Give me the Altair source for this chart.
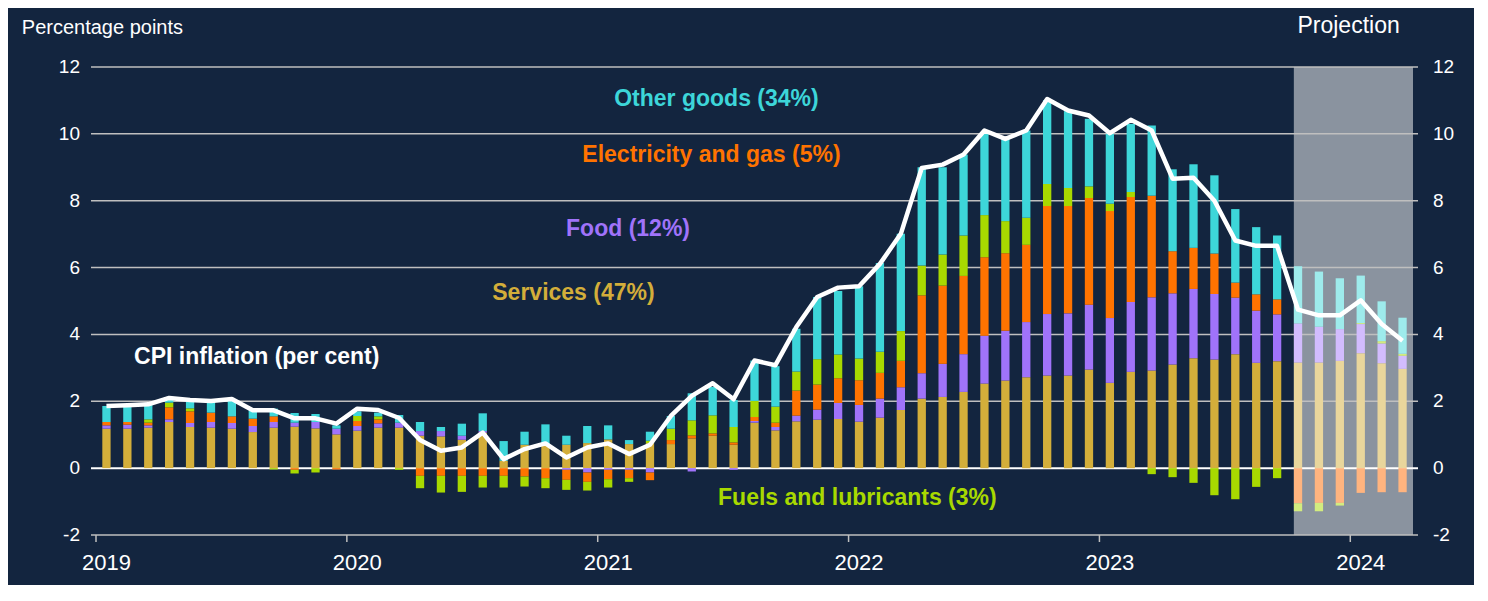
import altair as alt
import pandas as pd

# ---- data (percentage-point contributions, Jan 2019 .. Mar 2024) ----
years = ["2019", "2020", "2021", "2022", "2023", "2024"]
y_ticks = [-2, 0, 2, 4, 6, 8, 10, 12]
names = ["Services", "Food", "Electricity and gas", "Fuels and lubricants", "Other goods"]
first_projection_month = 57  # Oct 2023

services = [1.18, 1.18, 1.21, 1.38, 1.23, 1.21, 1.18, 1.08, 1.21, 1.24, 1.19, 1.01,
            1.12, 1.21, 1.21, 0.97, 0.95, 0.85, 1.06, 0.22, 0.70, 0.67, 0.70, 0.75,
            0.86, 0.72, 0.75, 0.72, 0.89, 0.97, 0.70, 1.36, 1.13, 1.40, 1.45, 1.47,
            1.39, 1.51, 1.74, 2.08, 2.13, 2.28, 2.53, 2.62, 2.72, 2.77, 2.77, 2.95,
            2.55, 2.88, 2.92, 3.10, 3.29, 3.25, 3.41, 3.15, 3.20, 3.16, 3.16, 3.21,
            3.44, 3.14, 2.97]
food = [0.10, 0.12, 0.07, 0.08, 0.12, 0.17, 0.17, 0.18, 0.17, 0.12, 0.19, 0.17,
        0.14, 0.13, 0.15, 0.14, 0.16, 0.12, 0.05, 0.0, 0.0, 0.0, -0.05, -0.13,
        -0.05, -0.05, -0.13, 0.0, -0.10, 0.0, -0.05, 0.05, 0.10, 0.17, 0.30, 0.48,
        0.50, 0.57, 0.68, 0.76, 0.99, 1.13, 1.43, 1.49, 1.65, 1.84, 1.86, 1.94,
        1.94, 2.09, 2.19, 2.13, 2.07, 1.96, 1.69, 1.56, 1.40, 1.17, 1.07, 0.95,
        0.87, 0.59, 0.39]
electricity = [0.10, 0.08, 0.08, 0.36, 0.35, 0.28, 0.20, 0.22, 0.17, -0.05, 0.0, -0.04,
               0.15, 0.12, 0.0, -0.23, -0.23, -0.23, -0.23, -0.23, -0.25, -0.30, -0.30, -0.28,
               -0.28, -0.25, -0.23, 0.12, 0.09, 0.07, 0.07, 0.12, 0.13, 0.75, 0.75, 0.74,
               0.74, 0.77, 0.79, 2.33, 2.34, 2.34, 2.35, 2.32, 2.31, 3.23, 3.21, 3.19,
               3.20, 3.14, 3.04, 1.26, 1.23, 1.21, 0.45, 0.49, 0.45, -1.05, -1.04, -1.04,
               -0.74, -0.72, -0.72]
fuels = [0.0, 0.0, 0.10, 0.14, 0.09, 0.0, 0.0, 0.0, -0.04, -0.11, -0.13, 0.0,
         0.15, 0.09, -0.05, -0.37, -0.50, -0.48, -0.35, -0.35, -0.30, -0.30, -0.30, -0.26,
         -0.25, -0.11, 0.07, 0.34, 0.45, 0.54, 0.46, 0.48, 0.48, 0.57, 0.76, 0.71,
         0.65, 0.63, 0.89, 0.89, 0.93, 1.21, 1.26, 0.96, 0.81, 0.66, 0.54, 0.35,
         0.22, 0.15, -0.18, -0.27, -0.44, -0.81, -0.93, -0.56, -0.30, -0.24, -0.25, -0.08,
         0.03, 0.07, 0.06]
other_goods = [0.48, 0.48, 0.45, 0.12, 0.27, 0.33, 0.49, 0.25, 0.23, 0.29, 0.24, 0.10,
               0.14, 0.11, 0.23, 0.27, 0.12, 0.36, 0.53, 0.59, 0.39, 0.64, 0.27, 0.51,
               0.42, 0.12, 0.27, 0.38, 0.81, 0.85, 0.81, 1.21, 1.21, 1.28, 1.86, 1.90,
               2.16, 2.66, 2.91, 2.94, 2.61, 2.42, 2.43, 2.46, 2.61, 2.51, 2.30, 2.02,
               2.09, 2.04, 2.10, 2.45, 2.50, 2.34, 2.20, 2.01, 1.91, 1.71, 1.65, 1.52,
               1.42, 1.19, 1.08]
cpi = [1.86, 1.88, 1.91, 2.10, 2.04, 2.01, 2.07, 1.73, 1.73, 1.49, 1.49, 1.33,
       1.78, 1.74, 1.50, 0.84, 0.52, 0.62, 1.06, 0.27, 0.57, 0.74, 0.32, 0.62,
       0.74, 0.42, 0.70, 1.56, 2.16, 2.54, 2.06, 3.22, 3.08, 4.22, 5.12, 5.40,
       5.44, 6.11, 7.01, 8.98, 9.08, 9.38, 10.10, 9.85, 10.10, 11.04, 10.70, 10.55,
       10.02, 10.42, 10.10, 8.66, 8.69, 8.00, 6.81, 6.65, 6.65, 4.74, 4.57, 4.57,
       5.02, 4.31, 3.81]

colors = ["#D3AE3A", "#A073FA", "#FF7300", "#A8D900", "#3DD6D9"]
light_colors = ["#E9D69C", "#D2BCFE", "#FFB47F", "#D3EC7F", "#9EEBEC"]

BG = "#13253F"
GRID = "#BFBFBF"
FONT = "Liberation Sans"
n_months = len(cpi)

# ---- tables ----
series = [services, food, electricity, fuels, other_goods]
rows = []
for i in range(n_months):
    proj = i >= first_projection_month
    for k, (n, s) in enumerate(zip(names, series)):
        rows.append({"m": i + 0.5, "key": n + (" (proj)" if proj else ""), "rank": k, "v": s[i]})
bars_df = pd.DataFrame(rows)
line_df = pd.DataFrame({"m": [i + 0.5 for i in range(n_months)], "cpi": cpi})
shade_df = pd.DataFrame({"x": [first_projection_month + 0.3], "x2": [n_months], "y": [12], "y2": [-2]})
grid_df = pd.DataFrame({"g": [t for t in y_ticks if t != 0]})
zero_df = pd.DataFrame({"g": [0]})
year_df = pd.DataFrame({"m": [12 * k for k in range(len(years))],
                        "mid": [12 * k + 0.5 for k in range(len(years))],
                        "year": years,
                        "top": [-2] * len(years), "bot": [-2.21] * len(years)})
ylab_df = pd.DataFrame({"g": y_ticks, "lab": [str(t) for t in y_ticks],
                        "xl": [0] * len(y_ticks), "xr": [n_months] * len(y_ticks)})
ann_df = pd.DataFrame({
    "t": ["Other goods (34%)", "Electricity and gas (5%)", "Food (12%)", "Services (47%)",
          "CPI inflation (per cent)", "Fuels and lubricants (3%)"],
    "x": [29.68, 29.44, 25.45, 22.84, 7.69, 36.42],
    "y": [11.03, 9.36, 7.14, 5.23, 3.32, -0.90],
    "c": ["#3DD6D9", "#FF7300", "#A073FA", "#D3AE3A", "#FFFFFF", "#A8D900"],
})
plain_df = pd.DataFrame({
    "t": ["Percentage points", "Projection"],
    "x": [-3.55, 59.92],
    "y": [13.18, 13.24],
})

xscale = alt.Scale(domain=[0, n_months], nice=False, zero=False)
yscale = alt.Scale(domain=[-2, 12], nice=False, zero=False)

X = lambda f: alt.X(f, type="quantitative", scale=xscale, axis=None)
Y = lambda f: alt.Y(f, type="quantitative", scale=yscale, axis=None)

shade = alt.Chart(shade_df).mark_rect(color="#8A939F").encode(
    x=X("x"), x2="x2", y=Y("y"), y2="y2")

grid = alt.Chart(grid_df).mark_rule(color=GRID, strokeWidth=1.5).encode(y=Y("g"))
zero = alt.Chart(zero_df).mark_rule(color="white", strokeWidth=2).encode(y=Y("g"))

# value labels on both sides
left_labels = alt.Chart(ylab_df).mark_text(align="right", baseline="middle", dx=-16, fontSize=19,
                                           font=FONT, color="white").encode(
    x=X("xl"), y=Y("g"), text="lab:N")
right_labels = alt.Chart(ylab_df).mark_text(align="left", baseline="middle", dx=20, fontSize=19,
                                            font=FONT, color="white").encode(
    x=X("xr"), y=Y("g"), text="lab:N")

# year ticks and labels
year_ticks = alt.Chart(year_df).mark_rule(color=GRID, strokeWidth=1.5).encode(
    x=X("m"), y=Y("top"), y2="bot")
year_labels = alt.Chart(year_df).mark_text(align="center", baseline="top", dy=18, fontSize=22,
                                           font=FONT, color="white").encode(
    x=X("mid"), y=Y("top"), text="year:N")

bars = alt.Chart(bars_df).mark_bar(size=8.3, orient="vertical").encode(
    x=X("m"),
    y=alt.Y("v:Q", stack="zero", scale=yscale, axis=None),
    color=alt.Color("key:N", legend=None,
                    scale=alt.Scale(domain=names + [n + " (proj)" for n in names],
                                    range=colors + light_colors)),
    order=alt.Order("rank:Q", sort="ascending"))

line = alt.Chart(line_df).mark_line(color="white", strokeWidth=4.5, strokeJoin="round").encode(
    x=X("m"), y=Y("cpi"))

ann = alt.Chart(ann_df).mark_text(fontSize=23, fontWeight="bold", font=FONT, align="center",
                                  baseline="middle").encode(
    x=X("x"), y=Y("y"), text="t:N", color=alt.Color("c:N", scale=None))

plain_left = alt.Chart(plain_df.iloc[[0]]).mark_text(fontSize=20, font=FONT, align="left",
                                                    baseline="middle", color="white").encode(
    x=X("x"), y=Y("y"), text="t:N")
plain_proj = alt.Chart(plain_df.iloc[[1]]).mark_text(fontSize=23, font=FONT, align="center",
                                                    baseline="middle", color="white").encode(
    x=X("x"), y=Y("y"), text="t:N")

chart = alt.layer(shade, grid, zero, bars, line, year_ticks, year_labels, left_labels,
                  right_labels, ann, plain_left, plain_proj).properties(
    width=1327, height=468,
    autosize=alt.AutoSizeParams(type="none"),
    padding={"left": 83, "top": 59, "right": 56, "bottom": 50},
    background=BG,
).configure_view(stroke=None)

chart.save("out.html", embed_options={"renderer": "svg", "actions": False})
